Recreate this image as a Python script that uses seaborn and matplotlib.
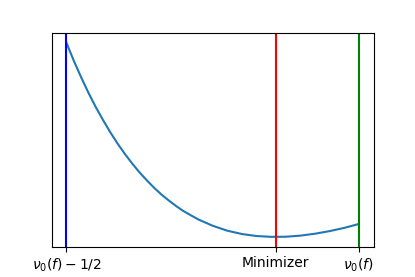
import matplotlib

matplotlib.use("Agg")
import matplotlib.pyplot as plt
import seaborn as sns

# Valores (x relativo a nu_0(f) - 1/2)
x_vals = [0.0, 0.0125, 0.025, 0.0375, 0.05, 0.0625, 0.075, 0.0875, 0.1, 0.1125,
          0.125, 0.1375, 0.15, 0.1625, 0.175, 0.1875, 0.2, 0.225, 0.25,
          0.275, 0.3, 0.325, 0.35, 0.375, 0.4, 0.425, 0.45, 0.475, 0.5]
y_vals = [202.5, 184.8, 168.4, 153.0, 138.8, 125.8, 113.6, 102.3, 92.0, 82.5,
          73.7, 65.8, 58.4, 51.7, 45.8, 40.3, 35.3, 27.1, 20.7,
          15.8, 12.5, 10.5, 9.7, 9.8, 10.9, 12.8, 15.4, 18.6, 22.5]

# Posições marcadas e rótulos do eixo x
x_esquerda = 0.0
x_minimo = 0.358
x_direita = 0.5
rotulos = [r"$\nu_0(f)-1/2$", "Minimizer", r"$\nu_0(f)$"]

fig, ax = plt.subplots(figsize=(4.15, 2.77), dpi=100)
sns.lineplot(x=x_vals, y=y_vals, color="C0", linewidth=1.5, ax=ax)

ax.axvline(x_esquerda, color="blue", linewidth=1.5)
ax.axvline(x_minimo, color="red", linewidth=1.5)
ax.axvline(x_direita, color="green", linewidth=1.5)

ax.set_xticks([x_esquerda, x_minimo, x_direita])
ax.set_xticklabels(rotulos)
ax.set_yticks([])

fig.savefig("out.png", dpi=100)
plt.close(fig)
